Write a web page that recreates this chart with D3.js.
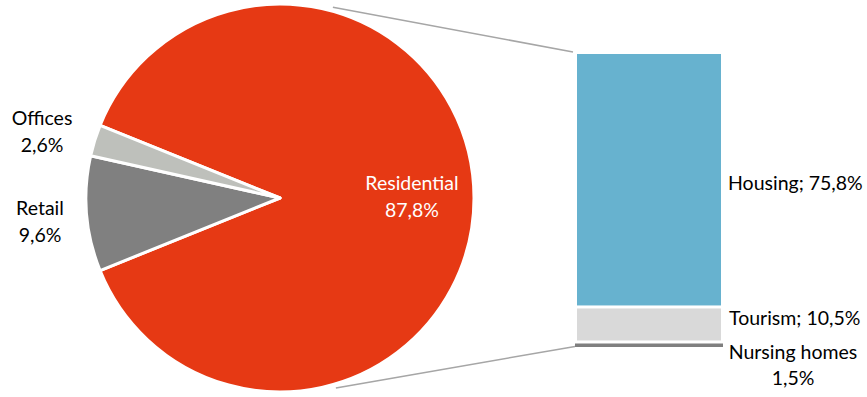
<!DOCTYPE html>
<html><head><meta charset="utf-8">
<script src="https://cdn.jsdelivr.net/npm/d3@7"></script>
<style>body{margin:0;background:#fff}svg{display:block}text{font-family:Lato,"Open Sans",sans-serif;}</style>
</head><body>
<svg id="c" width="867" height="397"></svg>
<script>
const pieCategories = ["Residential", "Retail", "Offices"];
const pieValues = [87.8, 9.6, 2.6];
const pieLabels = ["87,8%", "9,6%", "2,6%"];
const barCategories = ["Housing", "Tourism", "Nursing homes"];
const barValues = [75.8, 10.5, 1.5];
const barLabels = ["75,8%", "10,5%", "1,5%"];
const pieColors = ["#E63914", "#808080", "#BEC0BB"];
const barColors = ["#67B2CF", "#D9D9D9", "#7F7F7F"];

const svg = d3.select("#c");
const cx = 280, cy = 198, r = 194;
const total = d3.sum(pieValues);
const resFrac = pieValues[0] / total;
const start = Math.PI / 2 - resFrac * Math.PI;

const pie = d3.pie().sort(null).startAngle(start).endAngle(start + 2 * Math.PI);
const arcs = pie(pieValues);
const arc = d3.arc().innerRadius(0).outerRadius(r);
const g = svg.append("g").attr("transform", `translate(${cx},${cy})`);
g.selectAll("path").data(arcs).join("path")
  .attr("d", arc).attr("fill", (d, i) => pieColors[i])
  .attr("stroke", "#fff").attr("stroke-width", 3).attr("stroke-linejoin", "round");

// bar
const bx0 = 577, bx1 = 721;
const barTotal = d3.sum(barValues);
const y = d3.scaleLinear().domain([0, barTotal]).range([54, 347]);
let cum = 0;
const segs = barValues.map((v, i) => { const s = { i, y0: cum, y1: cum + v }; cum += v; return s; });
const topPad = [0, 1.5, 1.5], botPad = [1.5, 1.5, 0];
svg.selectAll("rect.seg").data(segs).join("rect").attr("class", "seg")
  .attr("x", d => d.i === 2 ? bx0 - 2 : bx0)
  .attr("width", d => d.i === 2 ? bx1 - bx0 + 4 : bx1 - bx0)
  .attr("y", d => y(d.y0) + topPad[d.i])
  .attr("height", d => Math.max(1, y(d.y1) - y(d.y0) - topPad[d.i] - botPad[d.i]))
  .attr("fill", d => barColors[d.i]);

// connector lines
const angTop = 15.5 * Math.PI / 180, angBot = (180 - 16.4) * Math.PI / 180;
const rr = r + 4;
const lines = [
  { a: angTop, x2: bx0 - 4, y2: y(0) - 2 },
  { a: angBot, x2: bx0 - 2, y2: y(barTotal) - 0.5 }
];
svg.selectAll("line.conn").data(lines).join("line").attr("class", "conn")
  .attr("x1", d => cx + rr * Math.sin(d.a)).attr("y1", d => cy - rr * Math.cos(d.a))
  .attr("x2", d => d.x2).attr("y2", d => d.y2)
  .attr("stroke", "#A6A6A6").attr("stroke-width", 1.5);

// pie labels
const fs = 19.5;
const pieLabelPos = [[412, 183, "#fff"], [40, 208, "#000"], [42, 118, "#000"]];
pieCategories.forEach((c, i) => {
  const [lx, ly, col] = pieLabelPos[i];
  const t = svg.append("text").attr("text-anchor", "middle").attr("fill", col).attr("font-size", fs);
  t.append("tspan").attr("x", lx).attr("y", ly).attr("dy", "0.35em").text(c);
  t.append("tspan").attr("x", lx).attr("y", ly + 27).attr("dy", "0.35em").text(pieLabels[i]);
});

// bar labels
svg.append("text").attr("x", 728).attr("y", 183).attr("dy", "0.35em").attr("font-size", fs)
  .text(barCategories[0] + "; " + barLabels[0]);
svg.append("text").attr("x", 729).attr("y", 318).attr("dy", "0.35em").attr("font-size", fs)
  .text(barCategories[1] + "; " + barLabels[1]);
const nt = svg.append("text").attr("text-anchor", "middle").attr("font-size", fs);
nt.append("tspan").attr("x", 793).attr("y", 352).attr("dy", "0.35em").text(barCategories[2]);
nt.append("tspan").attr("x", 793).attr("y", 378).attr("dy", "0.35em").text(barLabels[2]);
</script>
</body></html>
